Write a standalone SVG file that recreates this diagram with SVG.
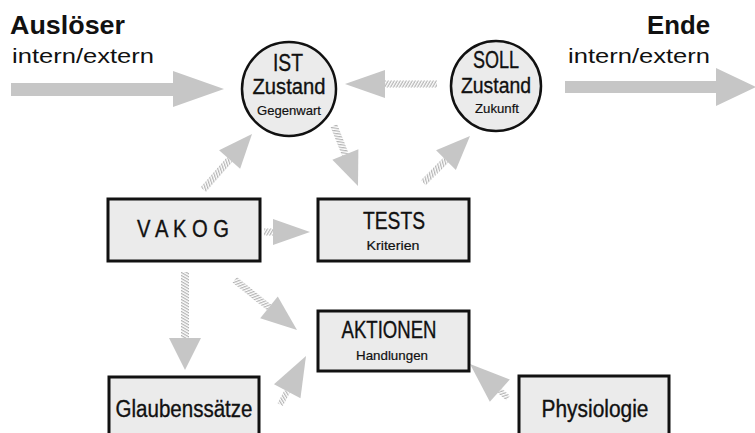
<svg xmlns="http://www.w3.org/2000/svg" width="755" height="433" viewBox="0 0 755 433">
<defs>
<pattern id="hatch" patternUnits="userSpaceOnUse" width="2.6" height="10" patternTransform="rotate(30)">
<rect x="0" y="0" width="1.2" height="10" fill="#b4b4b4"/>
</pattern>
<style>
.t{font-family:"Liberation Sans",Arial,sans-serif;fill:#111;stroke:#111;stroke-width:0.35;text-anchor:middle}
.big{font-size:23px}
.small{font-size:13.5px;stroke-width:0.2}
.box{fill:#ebebeb;stroke:#111;stroke-width:3}
.circ{fill:#ebebeb;stroke:#111;stroke-width:2.5}
.head{fill:#c6c6c6}
.shaft{fill:url(#hatch)}
.solid{fill:#c6c6c6}
</style>
</defs>
<rect width="755" height="433" fill="#fff"/>

<g id="labels">
<text x="10" y="34" style="font-family:'Liberation Sans',Arial,sans-serif;font-weight:bold;font-size:26px;fill:#111" textLength="115" lengthAdjust="spacingAndGlyphs">Auslöser</text>
<text x="12" y="63" style="font-family:'Liberation Sans',Arial,sans-serif;font-size:21px;fill:#111" textLength="142" lengthAdjust="spacingAndGlyphs">intern/extern</text>
<text x="710" y="34" style="font-family:'Liberation Sans',Arial,sans-serif;font-weight:bold;font-size:26px;fill:#111;text-anchor:end" textLength="63" lengthAdjust="spacingAndGlyphs">Ende</text>
<text x="710" y="63" style="font-family:'Liberation Sans',Arial,sans-serif;font-size:21px;fill:#111;text-anchor:end" textLength="142" lengthAdjust="spacingAndGlyphs">intern/extern</text>
</g>

<g id="connectors">
<polygon class="solid" points="11,83 173,83 173,71 224,89 173,107 173,96 11,96"/>
<polygon class="solid" points="565,81 716,81 716,68 756,87 716,106 716,93 565,93"/>
<g transform="translate(345,84) rotate(180)">
<polygon class="head" points="0,0 -40,-14 -40,14"/><rect class="shaft" x="-92" y="-3.5" width="52" height="7"/>
</g>
<g transform="translate(252,134) rotate(-48.8)">
<polygon class="head" points="0,0 -34,-14 -34,14"/><rect class="shaft" x="-74" y="-3.5" width="40" height="7"/>
</g>
<g transform="translate(358,186) rotate(68.2)">
<polygon class="head" points="0,0 -34,-14 -34,14"/><rect class="shaft" x="-65" y="-3.5" width="31" height="7"/>
</g>
<g transform="translate(470,136) rotate(-45)">
<polygon class="head" points="0,0 -34,-14 -34,14"/><rect class="shaft" x="-66" y="-3.5" width="32" height="7"/>
</g>
<g transform="translate(310,232) rotate(0)">
<polygon class="head" points="0,0 -37,-13 -37,13"/><rect class="shaft" x="-46" y="-3.5" width="9" height="7"/>
</g>
<g transform="translate(185,370) rotate(90)">
<polygon class="head" points="0,0 -32,-16 -32,16"/><rect class="shaft" x="-98" y="-4" width="66" height="8"/>
</g>
<g transform="translate(297,330) rotate(38.9)">
<polygon class="head" points="0,0 -36,-14 -36,14"/><rect class="shaft" x="-80" y="-3.5" width="44" height="7"/>
</g>
<g transform="translate(306,356) rotate(-62)">
<polygon class="head" points="0,0 -40,-15 -40,15"/><rect class="shaft" x="-55" y="-3" width="15" height="6"/>
</g>
<g transform="translate(470,364) rotate(-138.2)">
<polygon class="head" points="0,0 -40,-15 -40,15"/><rect class="shaft" x="-51" y="-3" width="11" height="6"/>
</g>
</g>

<g id="ist">
<circle class="circ" cx="289" cy="89" r="47"/>
<text class="t big" x="288" y="71" textLength="30" lengthAdjust="spacingAndGlyphs">IST</text>
<text class="t" style="font-size:21.5px" x="289" y="94" textLength="73" lengthAdjust="spacingAndGlyphs">Zustand</text>
<text class="t small" x="289" y="115" textLength="64" lengthAdjust="spacingAndGlyphs">Gegenwart</text>
</g>

<g id="soll">
<circle class="circ" cx="496" cy="86" r="45"/>
<text class="t big" x="496" y="68" textLength="46" lengthAdjust="spacingAndGlyphs">SOLL</text>
<text class="t" style="font-size:21.5px" x="496" y="93" textLength="70" lengthAdjust="spacingAndGlyphs">Zustand</text>
<text class="t small" x="497" y="113" textLength="44" lengthAdjust="spacingAndGlyphs">Zukunft</text>
</g>

<g id="vakog">
<rect class="box" x="108" y="199" width="152" height="62"/>
<text class="t big" x="183" y="237" textLength="92" lengthAdjust="spacingAndGlyphs">V A K O G</text>
</g>

<g id="tests">
<rect class="box" x="318" y="199" width="151" height="62"/>
<text class="t big" x="394" y="229" textLength="62" lengthAdjust="spacingAndGlyphs">TESTS</text>
<text class="t small" x="393" y="250" textLength="53" lengthAdjust="spacingAndGlyphs">Kriterien</text>
</g>

<g id="aktionen">
<rect class="box" x="318" y="311" width="151" height="60"/>
<text class="t big" x="389" y="338" textLength="95" lengthAdjust="spacingAndGlyphs">AKTIONEN</text>
<text class="t small" x="392" y="360" textLength="72" lengthAdjust="spacingAndGlyphs">Handlungen</text>
</g>

<g id="glaubenssaetze">
<rect class="box" x="109" y="377" width="150" height="70"/>
<text class="t big" x="184" y="417" textLength="137" lengthAdjust="spacingAndGlyphs">Glaubenssätze</text>
</g>

<g id="physiologie">
<rect class="box" x="519" y="376" width="150" height="70"/>
<text class="t big" x="595" y="417" textLength="107" lengthAdjust="spacingAndGlyphs">Physiologie</text>
</g>
</svg>
